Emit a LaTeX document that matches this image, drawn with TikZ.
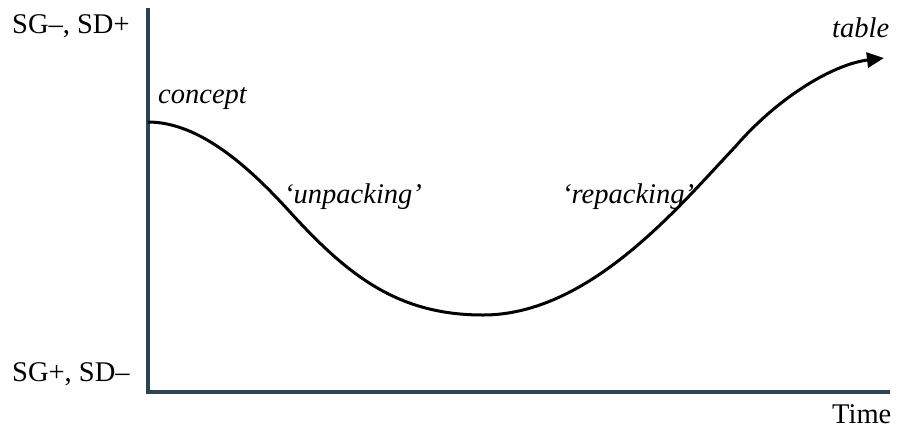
\documentclass[tikz,border=0pt]{standalone}
\usepackage{fontspec}
\setmainfont{Liberation Serif}
\usetikzlibrary{arrows.meta}
\definecolor{axisblue}{HTML}{2D4352}

\begin{document}
\begin{tikzpicture}[x=1bp,y=-1bp,>={Triangle[length=17bp,width=15bp]},
      every node/.style={inner sep=0pt,anchor=base west,font=\fontsize{28.5bp}{32bp}\selectfont},
      lbl/.style={font=\fontsize{28.5bp}{32bp}\selectfont\itshape}]
      \useasboundingbox (0,0) rectangle (903,428);
      % axes
      \coordinate (O) at (148,392);
      \draw [axisblue, line width=3.5bp, line join=miter] (148,8) -- (O) -- (890,392);
      \node (high) at (12,33) {SG--, SD+};
      \node (low) at (12,381) {SG+, SD--};
      \node (time) at (832,423) {Time};
      % curve
      \coordinate (start) at (148,122);
      \coordinate (down) at (290,212);
      \coordinate (bottom) at (483,315);
      \coordinate (up) at (735,147);
      \coordinate (end) at (884,58);
      \draw [->, line width=3bp] (start) .. controls (200,122) and (250,168) .. (down)
            .. controls (350,278) and (400,315) .. (bottom)
            .. controls (590,315) and (680,205) .. (up)
            .. controls (780,95) and (835,64) .. (end);
      \node [lbl] (concept) at (158,103) {concept};
      \node [lbl] (unpack) at (284,203) {`unpacking'};
      \node [lbl] (repack) at (562,203) {`repacking'};
      \node [lbl] (table) at (832,37) {table};
\end{tikzpicture}
\end{document}
